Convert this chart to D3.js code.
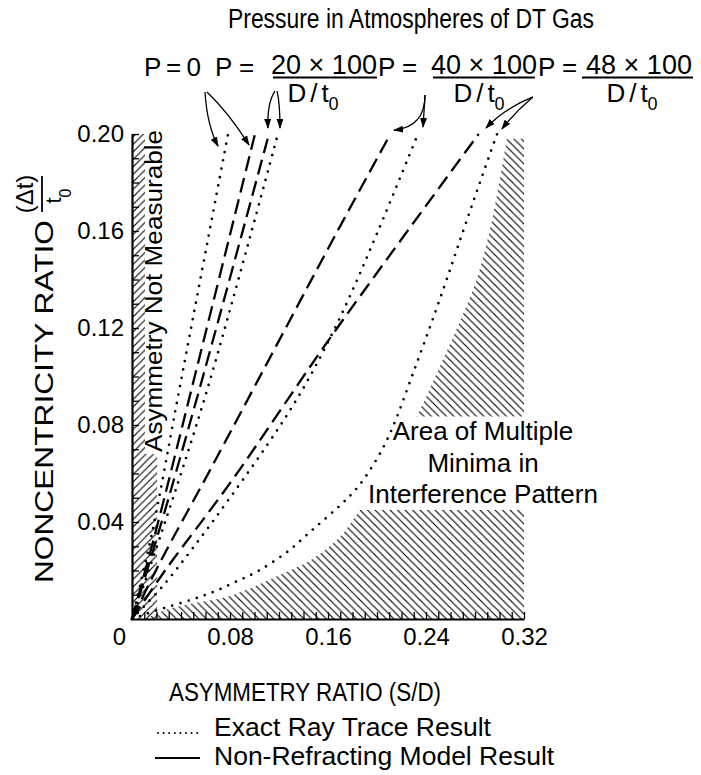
<!DOCTYPE html>
<html><head><meta charset="utf-8">
<script src="https://cdn.jsdelivr.net/npm/d3@7"></script>
<style>
body{margin:0;background:#fff}
svg{display:block}
text{font-family:"Liberation Sans",Arial,Helvetica,sans-serif;fill:#000}
</style>
</head><body>
<svg id="chart" width="701" height="775"></svg>
<script>
// ---------- data ----------
const xTicks = [0, 0.08, 0.16, 0.24, 0.32];
const xTickLabels = ["0", "0.08", "0.16", "0.24", "0.32"];
const yTicks = [0.04, 0.08, 0.12, 0.16, 0.20];
const yTickLabels = ["0.04", "0.08", "0.12", "0.16", "0.20"];
const minorStep = 0.01;

// Exact ray trace results (dotted) and non-refracting model results (dashed)
const exactP0  = [[0,0],[0.0163,0.0354],[0.039,0.0956],[0.0784,0.2]];
const modelP0  = [[0,0],[0.019,0.0354],[0.049,0.0956],[0.1004,0.2]];
const modelP20 = [[0,0],[0.0215,0.0354],[0.0555,0.0956],[0.1118,0.2]];
const exactP20 = [[0,0],[0.024,0.0354],[0.062,0.0956],[0.1191,0.2]];
const modelP40 = [[0,0],[0.022,0.0225],[0.0637,0.0614],[0.1681,0.1603],[0.211,0.2]];
const exactP40 = [[0,0],[0.025,0.0135],[0.05,0.0295],[0.08,0.05],[0.12,0.079],[0.143,0.098],[0.17,0.1245],[0.2,0.159],[0.2334,0.2]];
const modelP48 = [[0,0],[0.027,0.02],[0.08,0.056],[0.164,0.1175],[0.283,0.2]];
const exactP48 = [[0,0],[0.0065,0.0012],[0.026,0.0045],[0.05,0.0082],[0.068,0.0115],[0.084,0.0152],[0.102,0.0195],[0.1265,0.0276],[0.1478,0.037],[0.1698,0.0468],[0.1837,0.054],[0.1975,0.064],[0.2106,0.0765],[0.231,0.1035],[0.2538,0.1355],[0.27,0.1595],[0.284,0.18],[0.298,0.2]];

// boundary of "Area of Multiple Minima"
const multiMinimaBoundary = [[0.011,0],[0.027,0.0037],[0.05,0.0065],[0.08,0.0095],[0.12,0.018],[0.148,0.025],[0.17,0.034],[0.186,0.045],[0.21,0.062],[0.233,0.084],[0.252,0.105],[0.268,0.123],[0.282,0.141],[0.295,0.167],[0.306,0.198]];
const multiMinimaTop = 0.198;
const textBand = [0.045, 0.0835];      // white band behind the region label
const notMeasurableWidth = 0.0205;     // left hatched strip

// pressure labels and arrows (arrows in data units: start, control, end)
const pressureNumerators = ["20 × 100", "40 × 100", "48 × 100"];
const arrows = [
  [[0.0596,0.2173],[0.0612,0.2037],[0.0702,0.1950]],
  [[0.0612,0.2173],[0.0784,0.2091],[0.0955,0.1955]],
  [[0.1167,0.2177],[0.1102,0.2128],[0.1110,0.2025]],
  [[0.1184,0.2177],[0.1208,0.2128],[0.1208,0.2025]],
  [[0.2392,0.2161],[0.2392,0.2029],[0.2139,0.2016]],
  [[0.2392,0.2161],[0.2384,0.2099],[0.2376,0.2029]],
  [[0.3273,0.2153],[0.3045,0.2107],[0.2890,0.2025]],
  [[0.3273,0.2153],[0.3127,0.2091],[0.3020,0.2021]]
];

// ---------- chart ----------
const svg = d3.select("#chart");
const x = d3.scaleLinear().domain([0, 0.32]).range([132, 524]);
const y = d3.scaleLinear().domain([0, 0.2]).range([619, 134]);
const FONT = 'font-family:"Liberation Sans",Arial,Helvetica,sans-serif';

const defs = svg.append("defs");
const pR = defs.append("pattern").attr("id","hatchR").attr("patternUnits","userSpaceOnUse")
  .attr("width",7.5).attr("height",7.5);
pR.append("path").attr("d","M-1,-1L8.5,8.5M-1,6.5L1,8.5M6.5,-1L8.5,1").attr("stroke","#000").attr("stroke-width",1.15);
const pL = defs.append("pattern").attr("id","hatchL").attr("patternUnits","userSpaceOnUse")
  .attr("width",7.5).attr("height",7.5);
pL.append("path").attr("d","M-1,8.5L8.5,-1M-1,1L1,-1M6.5,8.5L8.5,6.5").attr("stroke","#000").attr("stroke-width",1.1);

const clip = defs.append("clipPath").attr("id","bandClip");
clip.append("rect").attr("x",x(0)).attr("width",x(0.32)-x(0))
  .attr("y",y(0.2)).attr("height",y(textBand[1])-y(0.2));
clip.append("rect").attr("x",x(0)).attr("width",x(0.32)-x(0))
  .attr("y",y(textBand[0])).attr("height",y(0)-y(textBand[0]));

const mk = defs.append("marker").attr("id","arrow").attr("markerUnits","userSpaceOnUse")
  .attr("markerWidth",10).attr("markerHeight",7).attr("refX",9).attr("refY",3.5).attr("orient","auto");
mk.append("path").attr("d","M0,0L10,3.5L0,7Z").attr("fill","#000");

// multiple-minima hatched area
const curveLine = d3.line().x(d=>x(d[0])).y(d=>y(d[1])).curve(d3.curveCatmullRom);
svg.append("path")
  .attr("d", curveLine(multiMinimaBoundary) + `L${x(0.32)},${y(multiMinimaTop)}L${x(0.32)},${y(0)}Z`)
  .attr("fill","url(#hatchR)").attr("clip-path","url(#bandClip)");

// not-measurable strip
svg.append("rect").attr("x",x(0)).attr("y",y(0.2))
  .attr("width",x(notMeasurableWidth)-x(0)).attr("height",y(0)-y(0.2))
  .attr("fill","url(#hatchL)");

// strip label
const gA = svg.append("g").attr("transform",`translate(162,452) rotate(-90)`);
gA.append("rect").attr("x",-2).attr("y",-17).attr("width",326).attr("height",20).attr("fill","#fff");
gA.append("text").attr("x",0).attr("y",0).attr("font-size",23)
  .attr("textLength",322).attr("lengthAdjust","spacingAndGlyphs")
  .text("Asymmetry Not Measurable");

// series
const seriesLine = d3.line().x(d=>x(d[0])).y(d=>y(d[1])).curve(d3.curveCatmullRom);
const dashed = [modelP0, modelP20, modelP40, modelP48];
const dotted = [exactP0, exactP20, exactP40, exactP48];
svg.append("g").selectAll("path").data(dashed).join("path")
  .attr("d", seriesLine).attr("fill","none").attr("stroke","#000")
  .attr("stroke-width",2.3).attr("stroke-dasharray","15,7");
svg.append("g").selectAll("path").data(dotted).join("path")
  .attr("d", seriesLine).attr("fill","none").attr("stroke","#000")
  .attr("stroke-width",2.7).attr("stroke-linecap","round").attr("stroke-dasharray","0,8.5");

// axes
const minorX = d3.range(minorStep, 0.32 + 1e-9, minorStep);
const minorY = d3.range(minorStep, 0.2 + 1e-9, minorStep);
const gx = svg.append("g").attr("transform",`translate(0,${y(0)})`)
  .call(d3.axisBottom(x).tickValues(minorX).tickSize(-7).tickSizeOuter(0).tickFormat(""));
const gy = svg.append("g").attr("transform",`translate(${x(0)},0)`)
  .call(d3.axisLeft(y).tickValues(minorY).tickSize(-7).tickSizeOuter(0).tickFormat(""));
[gx, gy].forEach(g => {
  g.select(".domain").attr("stroke","#000").attr("stroke-width",2.2);
  g.selectAll(".tick line").attr("stroke","#000").attr("stroke-width",1.3);
});
const gxl = svg.append("g").attr("transform",`translate(0,${y(0)})`)
  .call(d3.axisBottom(x).tickValues(xTicks).tickSize(0).tickPadding(9).tickFormat((d,i)=>xTickLabels[i]));
gxl.select(".domain").remove();
gxl.selectAll("text").attr("font-size",24).attr("fill","#000").attr("style",FONT);
gxl.selectAll("text").filter(d=>d===0).attr("dx",-13);
const gyl = svg.append("g").attr("transform",`translate(${x(0)},0)`)
  .call(d3.axisLeft(y).tickValues(yTicks).tickSize(0).tickPadding(8).tickFormat((d,i)=>yTickLabels[i]));
gyl.select(".domain").remove();
gyl.selectAll("text").attr("font-size",24).attr("fill","#000").attr("style",FONT);

// axis titles
svg.append("text").attr("x",305).attr("y",701).attr("text-anchor","middle")
  .attr("font-size",25).attr("textLength",272).attr("lengthAdjust","spacingAndGlyphs")
  .text("ASYMMETRY RATIO (S/D)");
const gT = svg.append("g").attr("transform",`translate(53,583) rotate(-90)`);
gT.append("text").attr("x",0).attr("y",0).attr("font-size",26)
  .attr("textLength",363).attr("lengthAdjust","spacingAndGlyphs")
  .text("NONCENTRICITY RATIO");
const gF = svg.append("g").attr("transform",`translate(42,194) rotate(-90)`);
gF.append("text").attr("x",0).attr("y",-9).attr("text-anchor","middle").attr("font-size",24).text("(Δt)");
gF.append("line").attr("x1",-18).attr("x2",18).attr("y1",0).attr("y2",0).attr("stroke","#000").attr("stroke-width",1.8);
const den0 = gF.append("text").attr("x",-2).attr("y",19).attr("text-anchor","middle").attr("font-size",22);
den0.append("tspan").text("t");
den0.append("tspan").attr("font-size",16).attr("dy",10).text("0");

// title
svg.append("text").attr("x",411).attr("y",28).attr("text-anchor","middle")
  .attr("font-size",27).attr("textLength",366).attr("lengthAdjust","spacingAndGlyphs")
  .text("Pressure in Atmospheres of DT Gas");

// pressure labels
svg.append("text").attr("x",201).attr("y",76).attr("text-anchor","end").attr("font-size",26)
  .attr("textLength",57).attr("lengthAdjust","spacing").text("P = 0");
const fracs = [
  {p:215, num:324, b0:273, b1:377, den:313},
  {p:378, num:484, b0:433, b1:535, den:479},
  {p:538, num:639, b0:582, b1:693, den:632}
];
fracs.forEach((f,i) => {
  svg.append("text").attr("x",f.p).attr("y",76).attr("font-size",26).text("P =");
  svg.append("text").attr("x",f.num).attr("y",74).attr("text-anchor","middle").attr("font-size",27).text(pressureNumerators[i]);
  svg.append("line").attr("x1",f.b0).attr("x2",f.b1).attr("y1",77.5).attr("y2",77.5).attr("stroke","#000").attr("stroke-width",1.8);
  const d = svg.append("text").attr("x",f.den).attr("y",102).attr("text-anchor","middle").attr("font-size",26);
  d.append("tspan").attr("letter-spacing",4).text("D/");
  d.append("tspan").text("t");
  d.append("tspan").attr("font-size",18).attr("dy",8).text("0");
});

// arrows
svg.append("g").selectAll("path").data(arrows).join("path")
  .attr("d", a => { const p = d3.path(); p.moveTo(x(a[0][0]),y(a[0][1]));
    p.quadraticCurveTo(x(a[1][0]),y(a[1][1]),x(a[2][0]),y(a[2][1])); return p.toString(); })
  .attr("fill","none").attr("stroke","#000").attr("stroke-width",1.3).attr("marker-end","url(#arrow)");

// region label
const regionLines = ["Area of Multiple", "Minima in", "Interference Pattern"];
const regionBase = [440, 472, 503];
regionLines.forEach((t,i) => svg.append("text").attr("x",483).attr("y",regionBase[i])
  .attr("text-anchor","middle").attr("font-size",26).text(t));

// legend
svg.append("line").attr("x1",158).attr("x2",198).attr("y1",733).attr("y2",733)
  .attr("stroke","#000").attr("stroke-width",2).attr("stroke-linecap","round").attr("stroke-dasharray","0,5.6");
svg.append("text").attr("x",214).attr("y",736).attr("font-size",26.5).text("Exact Ray Trace Result");
svg.append("line").attr("x1",155).attr("x2",200).attr("y1",758).attr("y2",758)
  .attr("stroke","#000").attr("stroke-width",2.2);
svg.append("text").attr("x",214).attr("y",765).attr("font-size",26.5).text("Non-Refracting Model Result");
</script>
</body></html>
